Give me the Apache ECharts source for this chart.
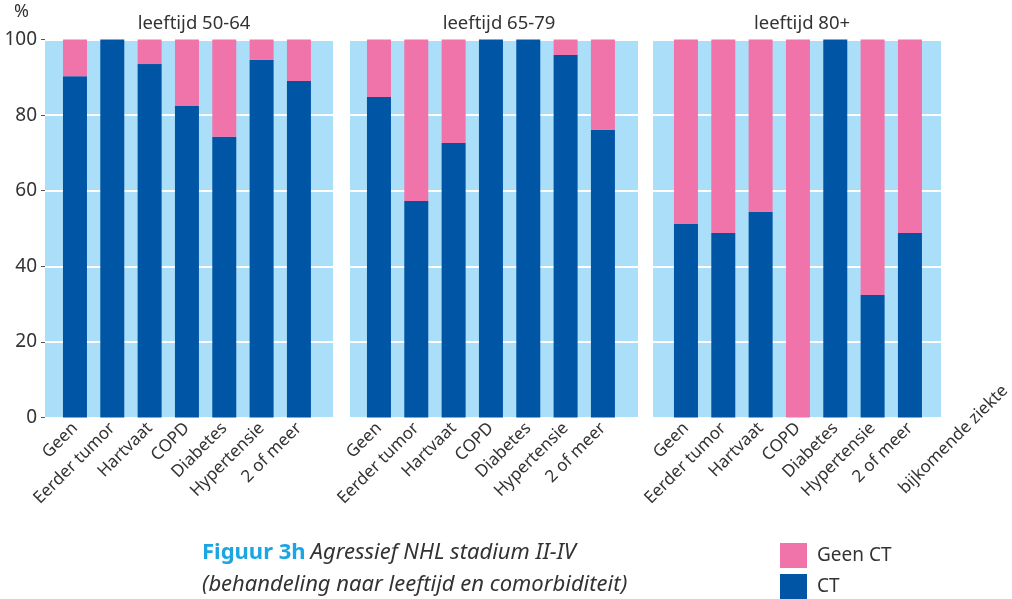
<!DOCTYPE html>
<html>
<head>
<meta charset="utf-8">
<script src="https://cdn.jsdelivr.net/npm/echarts@6/dist/echarts.min.js"></script>
<style>
  html, body { margin: 0; padding: 0; background: #fff; }
  #chart { width: 1012px; height: 599px; }
</style>
</head>
<body>
<div id="chart"></div>
<script>
// comorbiditeit per leeftijdsgroep
var categories = ['Geen', 'Eerder tumor', 'Hartvaat', 'COPD', 'Diabetes', 'Hypertensie', '2 of meer'];
var panelTitles = ['leeftijd 50-64', 'leeftijd 65-79', 'leeftijd 80+'];
var yTicks = [0, 20, 40, 60, 80, 100];

// percentage CT (blauw)
var ct5064 = [90.3, 100, 93.5, 82.4, 74.3, 94.6, 89.0];
var ct6579 = [84.8, 57.3, 72.6, 100, 100, 95.9, 76.1];
var ct80 = [51.2, 48.8, 54.4, 0, 100, 32.4, 48.8];

// percentage geen CT (roze)
var geen5064 = [9.7, 0, 6.5, 17.6, 25.7, 5.4, 11.0];
var geen6579 = [15.2, 42.7, 27.4, 0, 0, 4.1, 23.9];
var geen80 = [48.8, 51.2, 45.6, 100, 0, 67.6, 51.2];

var ctData = [ct5064, ct6579, ct80];
var geenData = [geen5064, geen6579, geen80];

var bgColor = '#abdff9';
var blue = '#0055a5';
var pink = '#f073a9';
var txt = '#333333';
var font = 'Noto Sans';

var bgLeft = [45, 350, 653];
var dataLeft = [56.3, 360.3, 667.3];

var chart = echarts.init(document.getElementById('chart'));

var grids = [], xAxes = [], yAxes = [], series = [], titles = [];

// achtergrond-grids (blauw vlak met witte lijnen)
for (var i = 0; i < 3; i++) {
  grids.push({
    left: bgLeft[i], top: 39.5, width: 288, height: 378,
    show: true, backgroundColor: bgColor, borderWidth: 0
  });
  xAxes.push({ type: 'category', gridIndex: i, data: [], show: false });
  yAxes.push({
    type: 'value', gridIndex: i, min: 0, max: 100, interval: 20,
    axisLine: { show: false },
    axisTick: { show: i === 0, length: 4, lineStyle: { color: '#555' } },
    axisLabel: {
      show: i === 0, margin: 8, color: txt, fontSize: 19, fontFamily: font,
      formatter: function (v) { return yTicks.indexOf(v) >= 0 ? v + '' : ''; }
    },
    splitLine: { show: true, lineStyle: { color: '#ffffff', width: 2 } }
  });
}

// data-grids
for (var j = 0; j < 3; j++) {
  var g = j + 3;
  grids.push({ left: dataLeft[j], top: 39.5, width: 261.3, height: 378 });
  xAxes.push({
    type: 'category', gridIndex: g, data: categories,
    axisLine: { show: false }, axisTick: { show: false },
    axisLabel: {
      interval: 0, rotate: 45, margin: 8,
      color: txt, fontSize: 17, fontFamily: font
    }
  });
  yAxes.push({ type: 'value', gridIndex: g, min: 0, max: 100, show: false });
  series.push({
    name: 'CT', type: 'bar', stack: 'p' + j, barWidth: 24,
    xAxisIndex: g, yAxisIndex: g,
    itemStyle: { color: blue },
    data: ctData[j]
  });
  series.push({
    name: 'Geen CT', type: 'bar', stack: 'p' + j, barWidth: 24,
    xAxisIndex: g, yAxisIndex: g,
    itemStyle: { color: pink },
    data: geenData[j]
  });
  titles.push({
    text: panelTitles[j],
    left: bgLeft[j] + 144, top: 9, textAlign: 'center',
    textStyle: { color: txt, fontSize: 18.5, fontWeight: 'normal', fontFamily: font }
  });
}

titles.push({
  left: 197, top: 532,
  text: '{a|Figuur 3h} {b|Agressief NHL stadium II-IV}\n{b|(behandeling naar leeftijd en comorbiditeit)}',
  textStyle: {
    fontWeight: 'normal',
    rich: {
      a: { color: '#1ba6e2', fontSize: 22, fontWeight: 'bold', fontFamily: font, lineHeight: 32 },
      b: { color: txt, fontSize: 22, fontWeight: 'normal', fontStyle: 'italic', fontFamily: font, lineHeight: 32 }
    }
  }
});

var legendText = { color: txt, fontSize: 19, fontFamily: font, padding: [0, 0, 0, 5] };

var option = {
  animation: false,
  title: titles,
  legend: [
    {
      data: ['Geen CT'], left: 780, top: 543,
      itemWidth: 27, itemHeight: 25, icon: 'rect', padding: 0,
      textStyle: legendText
    },
    {
      data: ['CT'], left: 780, top: 574,
      itemWidth: 27, itemHeight: 25, icon: 'rect', padding: 0,
      textStyle: legendText
    }
  ],
  grid: grids,
  xAxis: xAxes,
  yAxis: yAxes,
  series: series,
  graphic: [
    {
      type: 'text', left: 14, top: 3,
      style: { text: '%', fill: txt, fontSize: 18, fontFamily: font }
    },
    {
      type: 'text', x: 1005, y: 388, rotation: Math.PI / 4,
      style: {
        text: 'bijkomende ziekte', fill: txt, fontSize: 17, fontFamily: font,
        textAlign: 'right', textVerticalAlign: 'middle'
      }
    }
  ]
};

chart.setOption(option);
</script>
</body>
</html>
